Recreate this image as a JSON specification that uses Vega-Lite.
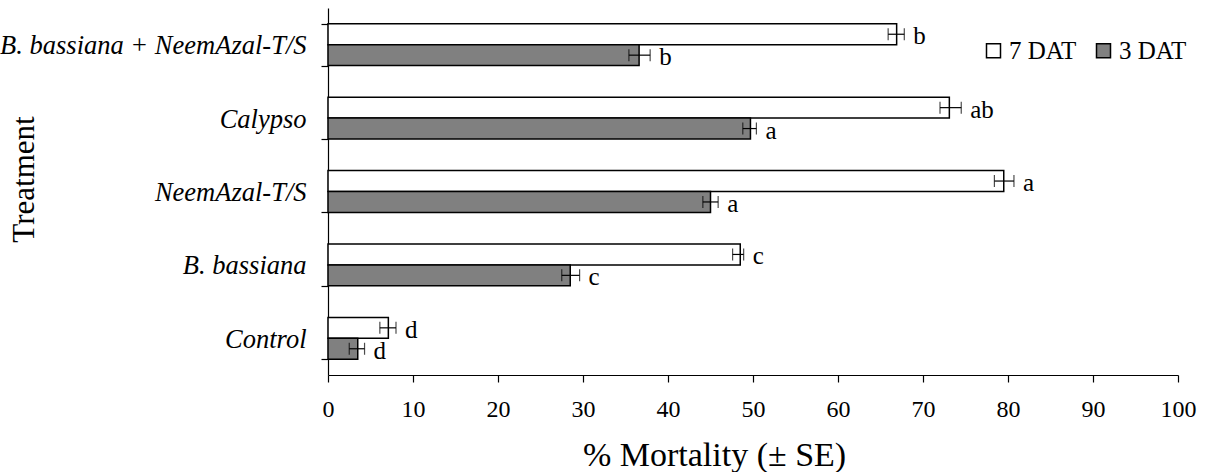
{
  "$schema": "https://vega.github.io/schema/vega-lite/v6.json",
  "width": 850,
  "height": 367,
  "autosize": {"type": "none"},
  "padding": {"left": 328, "top": 8, "right": 29, "bottom": 97},
  "background": "white",
  "config": {
    "view": {"stroke": null},
    "font": "Liberation Serif",
    "axis": {"domainColor": "black", "tickColor": "black", "labelColor": "black", "titleColor": "black", "grid": false, "labelFont": "Liberation Serif", "titleFont": "Liberation Serif", "titleFontWeight": "normal", "domainWidth": 1.2, "tickWidth": 1.2, "tickSize": 7},
    "legend": {"labelFont": "Liberation Serif", "labelColor": "black"},
    "text": {"font": "Liberation Serif"}
  },
  "data": {
    "values": [
      {"treatment": "B. bassiana + NeemAzal-T/S", "series": "7 DAT", "mean": 66.9, "lo": 65.9, "hi": 67.8, "letter": "b"},
      {"treatment": "B. bassiana + NeemAzal-T/S", "series": "3 DAT", "mean": 36.6, "lo": 35.4, "hi": 37.9, "letter": "b"},
      {"treatment": "Calypso", "series": "7 DAT", "mean": 73.1, "lo": 72.0, "hi": 74.5, "letter": "ab"},
      {"treatment": "Calypso", "series": "3 DAT", "mean": 49.7, "lo": 48.8, "hi": 50.4, "letter": "a"},
      {"treatment": "NeemAzal-T/S", "series": "7 DAT", "mean": 79.5, "lo": 78.4, "hi": 80.7, "letter": "a"},
      {"treatment": "NeemAzal-T/S", "series": "3 DAT", "mean": 45.0, "lo": 44.1, "hi": 45.9, "letter": "a"},
      {"treatment": "B. bassiana", "series": "7 DAT", "mean": 48.5, "lo": 47.6, "hi": 48.9, "letter": "c"},
      {"treatment": "B. bassiana", "series": "3 DAT", "mean": 28.5, "lo": 27.5, "hi": 29.6, "letter": "c"},
      {"treatment": "Control", "series": "7 DAT", "mean": 7.1, "lo": 6.1, "hi": 8.0, "letter": "d"},
      {"treatment": "Control", "series": "3 DAT", "mean": 3.5, "lo": 2.5, "hi": 4.3, "letter": "d"}
    ]
  },
  "encoding": {
    "y": {
      "field": "treatment",
      "type": "nominal",
      "sort": ["B. bassiana + NeemAzal-T/S", "Calypso", "NeemAzal-T/S", "B. bassiana", "Control"],
      "scale": {"paddingInner": 0.43, "paddingOuter": 0.215},
      "axis": {
        "title": "Treatment",
        "tickBand": "extent",
        "labelFontSize": 26.5,
        "labelFontStyle": "italic",
        "labelPadding": 15,
        "labelBaseline": "alphabetic",
        "labelOffset": 9,
        "labelLimit": 400,
        "titleFontSize": 31,
        "titleAngle": 270,
        "titleAlign": "center",
        "titleBaseline": "alphabetic",
        "titleX": -295,
        "titleY": 171
      }
    },
    "yOffset": {"field": "series", "type": "nominal", "sort": ["7 DAT", "3 DAT"], "scale": {"paddingInner": 0, "paddingOuter": 0}}
  },
  "layer": [
    {
      "mark": {"type": "bar", "stroke": "black", "strokeWidth": 1.5},
      "encoding": {
        "x": {
          "field": "mean",
          "type": "quantitative",
          "scale": {"domain": [0, 100], "nice": false},
          "axis": {
            "title": "% Mortality (± SE)",
            "values": [0, 10, 20, 30, 40, 50, 60, 70, 80, 90, 100],
            "labelFontSize": 24,
            "labelBaseline": "alphabetic",
            "labelPadding": 34,
            "labelFlush": false,
            "titleFontSize": 34,
            "titleBaseline": "alphabetic",
            "titleAlign": "center",
            "titleX": 386,
            "titleY": 90
          }
        },
        "fill": {
          "field": "series",
          "type": "nominal",
          "scale": {"domain": ["7 DAT", "3 DAT"], "range": ["white", "#808080"]},
          "legend": {
            "title": null,
            "orient": "none",
            "legendX": 653,
            "legendY": 30,
            "direction": "horizontal",
            "symbolType": "square",
            "symbolSize": 196,
            "symbolStrokeColor": "black",
            "symbolStrokeWidth": 1.5,
            "labelFontSize": 25,
            "labelOffset": 3,
            "columnPadding": 14,
            "padding": 0
          }
        }
      }
    },
    {
      "mark": {"type": "rule", "color": "black", "strokeWidth": 1.2},
      "encoding": {
        "x": {"field": "lo", "type": "quantitative"},
        "x2": {"field": "hi"}
      }
    },
    {
      "mark": {"type": "tick", "color": "black", "size": 12, "thickness": 1.2, "orient": "vertical"},
      "encoding": {"x": {"field": "lo", "type": "quantitative"}}
    },
    {
      "mark": {"type": "tick", "color": "black", "size": 12, "thickness": 1.2, "orient": "vertical"},
      "encoding": {"x": {"field": "hi", "type": "quantitative"}}
    },
    {
      "mark": {"type": "text", "align": "left", "baseline": "middle", "dx": 9, "dy": 2, "fontSize": 25, "color": "black"},
      "encoding": {
        "x": {"field": "hi", "type": "quantitative"},
        "text": {"field": "letter"}
      }
    }
  ]
}
